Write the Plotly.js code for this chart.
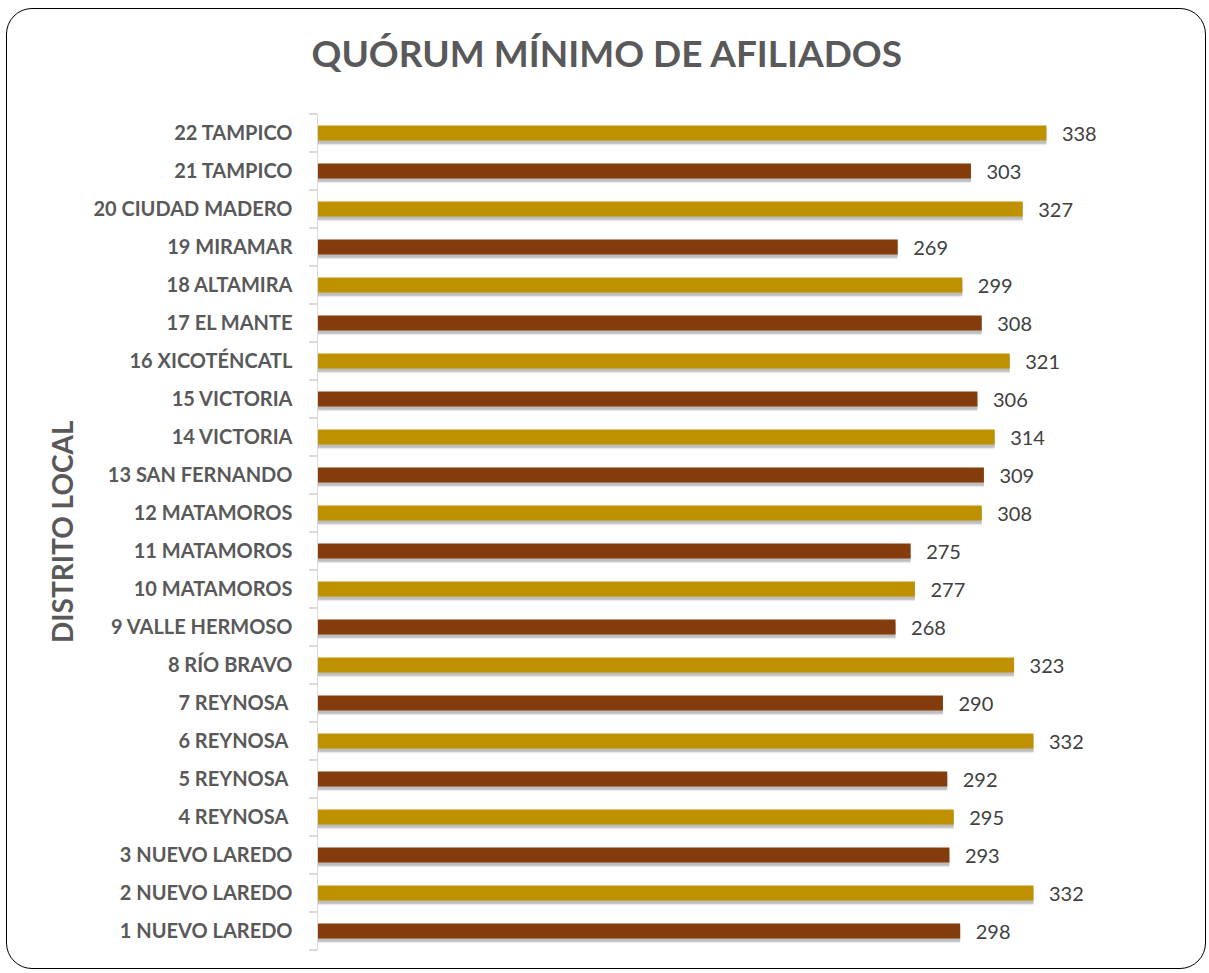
<!DOCTYPE html>
<html>
<head>
<meta charset="utf-8">
<script src="https://cdn.plot.ly/plotly-3.0.1.min.js"></script>
<style>
  html, body { margin: 0; padding: 0; background: #ffffff; }
  #wrap { position: relative; width: 1209px; height: 973px; }
  #chart { position: absolute; left: 0; top: 0; width: 1209px; height: 973px; }
  #frame { position: absolute; left: 6px; top: 8px; width: 1200px; height: 961px;
           border: 1.6px solid #000; border-radius: 26px; box-sizing: border-box; pointer-events: none; }
</style>
</head>
<body>
<div id="wrap">
  <div id="chart"></div>
  <div id="frame"></div>
</div>
<script>
const districts = [
  "1 NUEVO LAREDO", "2 NUEVO LAREDO", "3 NUEVO LAREDO", "4 REYNOSA\u00a0", "5 REYNOSA\u00a0",
  "6 REYNOSA\u00a0", "7 REYNOSA\u00a0", "8 RÍO BRAVO", "9 VALLE HERMOSO", "10 MATAMOROS",
  "11 MATAMOROS", "12 MATAMOROS", "13 SAN FERNANDO", "14 VICTORIA", "15 VICTORIA",
  "16 XICOTÉNCATL", "17 EL MANTE", "18 ALTAMIRA", "19 MIRAMAR", "20 CIUDAD MADERO",
  "21 TAMPICO", "22 TAMPICO"
];
const quorum = [298, 332, 293, 295, 292, 332, 290, 323, 268, 277, 275, 308, 309, 314, 306, 321, 308, 299, 269, 327, 303, 338];
const brown = "#843C0C";
const gold = "#BF9000";
const barColors = districts.map((d, i) => (i % 2 === 0 ? brown : gold));

const shadowOuter = {
  type: "bar", orientation: "h",
  x: quorum, y: districts,
  width: 0.42, offset: -0.32,
  marker: { color: "rgba(80,80,80,0.12)", line: { width: 0 } },
  hoverinfo: "skip", showlegend: false
};
const shadow = {
  type: "bar", orientation: "h",
  x: quorum, y: districts,
  width: 0.4, offset: -0.28,
  marker: { color: "rgba(60,60,60,0.25)", line: { width: 0 } },
  hoverinfo: "skip", showlegend: false
};
const bars = {
  type: "bar", orientation: "h",
  x: quorum, y: districts,
  width: 0.4, offset: -0.2,
  marker: { color: barColors, line: { width: 0 } },
  text: quorum.map(v => "\u2002\u2009" + v),
  textposition: "outside",
  constraintext: "none",
  textfont: { family: "Lato, 'Open Sans', sans-serif", size: 20, color: "#404040" },
  cliponaxis: false,
  showlegend: false,
  hoverinfo: "x+y"
};

const layout = {
  width: 1209, height: 973,
  paper_bgcolor: "#ffffff", plot_bgcolor: "#ffffff",
  margin: { l: 318, r: 29, t: 114, b: 23 },
  barmode: "overlay",
  showlegend: false,
  font: { family: "Lato, 'Open Sans', sans-serif", color: "#595959" },
  title: {
    text: "<b>QUÓRUM MÍNIMO DE AFILIADOS</b>",
    font: { family: "Lato, 'Open Sans', sans-serif", size: 37, color: "#595959" },
    xref: "paper", x: 0.335, xanchor: "center",
    yref: "container", y: 1 - 54 / 973, yanchor: "middle"
  },
  xaxis: {
    range: [0, 400], visible: false, showgrid: false, zeroline: false, fixedrange: true
  },
  yaxis: {
    type: "category",
    categoryorder: "array", categoryarray: districts,
    showline: true, linecolor: "#D9D9D9", linewidth: 1.5,
    ticks: "outside", tickson: "boundaries", ticklen: 8, tickcolor: "#D9D9D9", tickwidth: 1.5,
    showgrid: false, zeroline: false,
    tickfont: { family: "Lato, 'Open Sans', sans-serif", size: 20, color: "#595959", weight: "bold" },
    ticklabelstandoff: 20,
    automargin: false,
    fixedrange: true
  },
  annotations: [{
    text: "<b>DISTRITO LOCAL</b>",
    textangle: -90,
    xref: "paper", yref: "paper",
    x: (62 - 318) / 862, y: 0.5,
    xanchor: "center", yanchor: "middle",
    showarrow: false,
    font: { family: "Lato, 'Open Sans', sans-serif", size: 28, color: "#595959" }
  }]
};

Plotly.newPlot("chart", [shadowOuter, shadow, bars], layout, { displayModeBar: false, staticPlot: true });
</script>
</body>
</html>
